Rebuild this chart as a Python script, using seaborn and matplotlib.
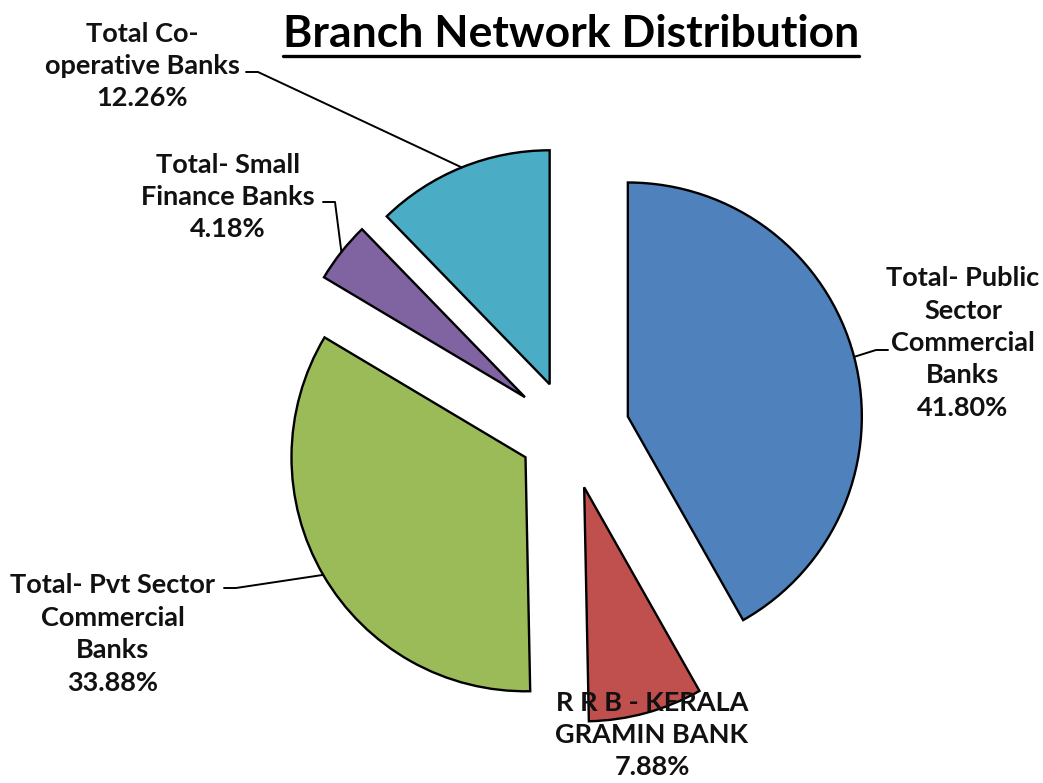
import numpy as np
import matplotlib
matplotlib.use("Agg")
import matplotlib.pyplot as plt
import seaborn as sns

# data
banks = ["Total- Public\nSector\nCommercial\nBanks",
         "R R B - KERALA\nGRAMIN BANK",
         "Total- Pvt Sector\nCommercial\nBanks",
         "Total- Small\nFinance Banks",
         "Total Co-\noperative Banks"]
share = [41.80, 7.88, 33.88, 4.18, 12.26]
colors = ["#4F81BD", "#C0504D", "#9BBB59", "#8064A2", "#4BACC6"]
explode = [0.26, 0.245, 0.215, 0.24, 0.22]

sns.set_theme(style="white")
plt.rcParams["font.family"] = ["Lato", "DejaVu Sans"]

W, H = 1043, 783
CX, CY, RP = 569, 432, 234  # pie centre / radius in pixels


def px(x, y):
    return ((x - CX) / RP, (CY - y) / RP)


fig = plt.figure(figsize=(W / 100, H / 100), dpi=100)
ax = fig.add_axes([0, 0, 1, 1])
wedges, _ = ax.pie(share, colors=colors, explode=explode, startangle=90,
                   counterclock=False, radius=1,
                   wedgeprops=dict(edgecolor="black", linewidth=1.7))
ax.set_xlim(-CX / RP, (W - CX) / RP)
ax.set_ylim(-(H - CY) / RP, CY / RP)
ax.set_aspect("auto")
ax.axis("off")

# label positions (pixels) and leader hooks
label_pos = [(963, 343), (652, 735), (113, 634), (228, 197), (142, 66)]
hooks = [(888, 350), None, (224, 588), (323, 202), (246, 72)]
hook_dir = [-1, 0, 1, 1, 1]

for i, w in enumerate(wedges):
    txt = f"{banks[i]}\n{share[i]:.2f}%"
    tx, ty = px(*label_pos[i])
    ax.text(tx, ty, txt, ha="center", va="center", multialignment="center",
            fontsize=19.5, fontweight="bold", color="#111111", linespacing=1.42)
    if hooks[i] is None:
        continue
    mid = np.deg2rad((w.theta1 + w.theta2) / 2)
    cx, cy = w.center
    ex, ey = cx + w.r * np.cos(mid), cy + w.r * np.sin(mid)
    hx, hy = px(*hooks[i])
    kx = hx + hook_dir[i] * 12 / RP
    ax.plot([hx, kx, ex], [hy, hy, ey], color="black", lw=1.4)

title = fig.text(571 / W, 1 - 34 / H, "Branch Network Distribution",
                 ha="center", va="center", fontsize=32, fontweight="bold",
                 color="black")
fig.canvas.draw()
bb = title.get_window_extent()
fig.add_artist(plt.Line2D([bb.x0 / W, bb.x1 / W], [1 - 56 / H, 1 - 56 / H],
                          transform=fig.transFigure, color="black", lw=2.4))

fig.savefig("out.png", dpi=100)
